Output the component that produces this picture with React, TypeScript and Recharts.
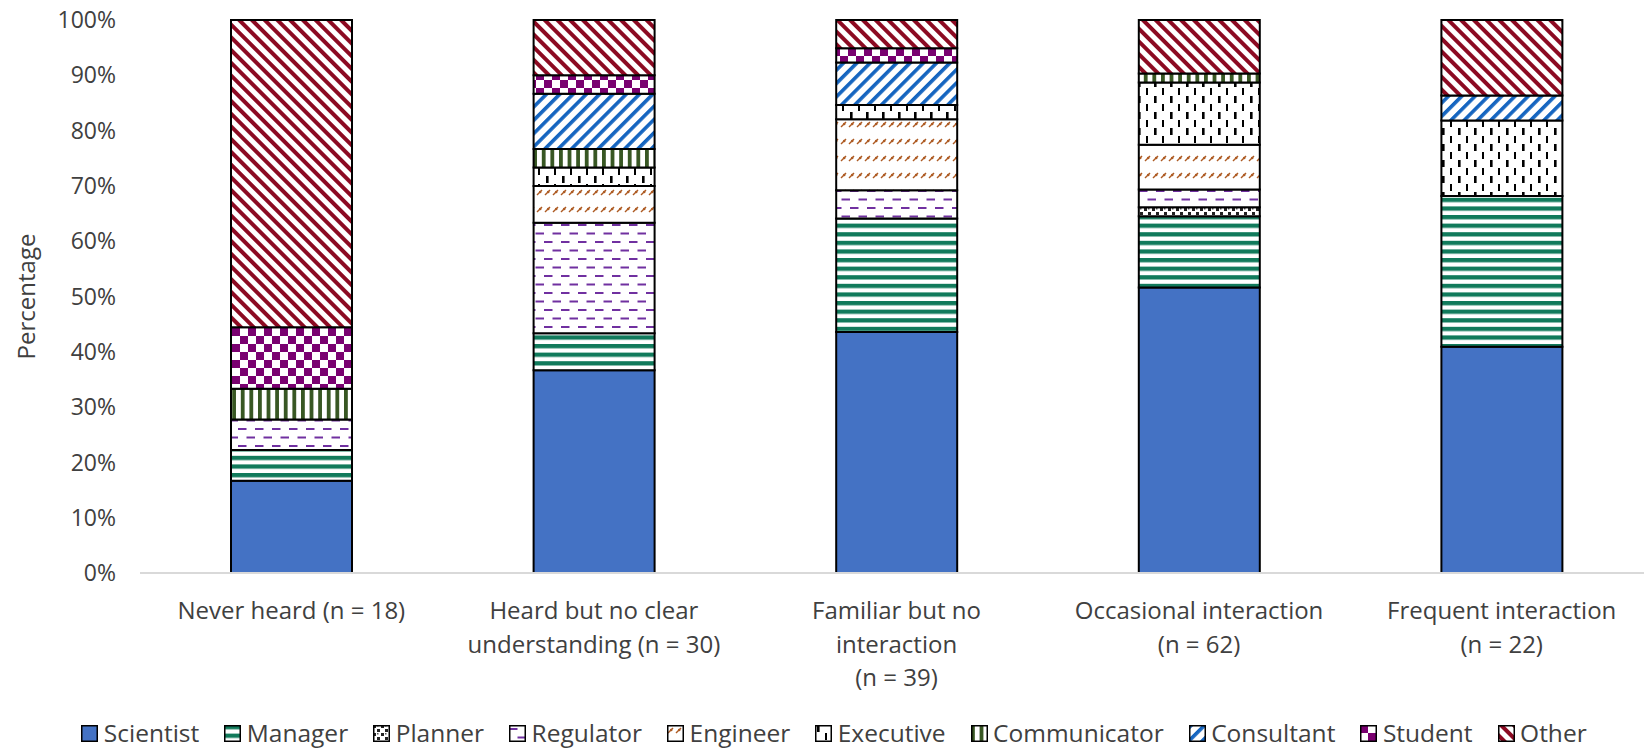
import React from "react";
import { BarChart, Bar, XAxis, YAxis } from "recharts";

const FONT = "'Open Sans', 'Noto Sans', sans-serif";
const TEXT = "#404040";

// category labels ("\n" marks where the original wraps)
const categories = [
  "Never heard (n = 18)",
  "Heard but no clear\nunderstanding (n = 30)",
  "Familiar but no\ninteraction\n(n = 39)",
  "Occasional interaction\n(n = 62)",
  "Frequent interaction\n(n = 22)",
];

// respondent counts per role, one entry per category
const scientist = [3, 11, 17, 32, 9];
const manager = [1, 2, 8, 8, 6];
const planner = [0, 0, 0, 1, 0];
const regulator = [1, 6, 2, 2, 0];
const engineer = [0, 2, 5, 5, 0];
const executive = [0, 1, 1, 7, 3];
const communicator = [1, 1, 0, 1, 0];
const consultant = [0, 3, 3, 0, 1];
const student = [2, 1, 1, 0, 0];
const other = [10, 3, 2, 6, 3];

const roles = [
  "Scientist",
  "Manager",
  "Planner",
  "Regulator",
  "Engineer",
  "Executive",
  "Communicator",
  "Consultant",
  "Student",
  "Other",
];
const roleCounts = [
  scientist,
  manager,
  planner,
  regulator,
  engineer,
  executive,
  communicator,
  consultant,
  student,
  other,
];

const yTicks = [0, 0.1, 0.2, 0.3, 0.4, 0.5, 0.6, 0.7, 0.8, 0.9, 1];

const fills: Record<string, string> = {
  Scientist: "#4472C4",
  Manager: "url(#p-manager)",
  Planner: "url(#p-planner)",
  Regulator: "url(#p-regulator)",
  Engineer: "url(#p-engineer)",
  Executive: "url(#p-executive)",
  Communicator: "url(#p-communicator)",
  Consultant: "url(#p-consultant)",
  Student: "url(#p-student)",
  Other: "url(#p-other)",
};

const data = categories.map((name, i) => {
  const row: any = { name };
  roles.forEach((r, k) => {
    row[r] = roleCounts[k][i];
  });
  return row;
});

const Patterns = () => (
  <defs>
    <pattern id="p-manager" patternUnits="userSpaceOnUse" width="10" height="8.6">
      <rect width="10" height="8.6" fill="#fff" />
      <rect y="0" width="10" height="4.3" fill="#117A5B" />
    </pattern>
    <pattern id="p-planner" patternUnits="userSpaceOnUse" width="8" height="8">
      <rect width="8" height="8" fill="#fff" />
      <rect x="0" y="0" width="3" height="3" fill="#222" />
      <rect x="4" y="4" width="3" height="3" fill="#222" />
      <rect x="4" y="0" width="1.5" height="1.5" fill="#555" />
    </pattern>
    <pattern id="p-regulator" patternUnits="userSpaceOnUse" width="17" height="17">
      <rect width="17" height="17" fill="#fff" />
      <rect x="0" y="3" width="8.5" height="2" fill="#7030A0" />
      <rect x="8.5" y="11.5" width="8.5" height="2" fill="#7030A0" />
    </pattern>
    <pattern id="p-engineer" patternUnits="userSpaceOnUse" width="8" height="17">
      <rect width="8" height="17" fill="#fff" />
      <path d="M1 8 L6 3" stroke="#AD5A22" strokeWidth="1.4" />
      <circle cx="4.2" cy="5" r="1.3" fill="#AD5A22" />
    </pattern>
    <pattern id="p-executive" patternUnits="userSpaceOnUse" width="16" height="16">
      <rect width="16" height="16" fill="#fff" />
      <rect x="2" y="0" width="2.6" height="7" fill="#000" />
      <rect x="10" y="8" width="2" height="7" fill="#000" />
    </pattern>
    <pattern id="p-communicator" patternUnits="userSpaceOnUse" width="8.6" height="10">
      <rect width="8.6" height="10" fill="#fff" />
      <rect x="0" width="3.8" height="10" fill="#385723" />
    </pattern>
    <pattern
      id="p-consultant"
      patternUnits="userSpaceOnUse"
      width="9.4"
      height="9.4"
      patternTransform="rotate(45)"
    >
      <rect width="9.4" height="9.4" fill="#fff" />
      <rect width="3.6" height="9.4" fill="#1565C0" />
    </pattern>
    <pattern id="p-student" patternUnits="userSpaceOnUse" width="16" height="16">
      <rect width="16" height="16" fill="#fff" />
      <rect x="0" y="0" width="8" height="8" fill="#7A0070" />
      <rect x="8" y="8" width="8" height="8" fill="#7A0070" />
    </pattern>
    <pattern
      id="p-other"
      patternUnits="userSpaceOnUse"
      width="9"
      height="9"
      patternTransform="rotate(-45)"
    >
      <rect width="9" height="9" fill="#fff" />
      <rect width="4" height="9" fill="#8C0A22" />
    </pattern>
  </defs>
);

const CategoryTick = ({ x, y, payload }: any) => {
  const lines = String(payload.value).split("\n");
  return (
    <text x={x} y={y} textAnchor="middle" fill={TEXT} fontSize={24} fontFamily={FONT}>
      {lines.map((l, i) => (
        <tspan key={i} x={x} dy={i === 0 ? 38 : 33.5}>
          {l}
        </tspan>
      ))}
    </text>
  );
};

const YTitle = ({ viewBox }: any) => {
  const cy = viewBox.y + viewBox.height / 2;
  return (
    <text
      x={25}
      y={cy}
      transform={`rotate(-90 25 ${cy})`}
      textAnchor="middle"
      dominantBaseline="central"
      fill={TEXT}
      fontSize={24}
      fontFamily={FONT}
    >
      Percentage
    </text>
  );
};

const LegendRow = () => (
  <div
    style={{
      position: "absolute",
      left: 12,
      top: 719,
      width: 1644,
      display: "flex",
      justifyContent: "center",
      gap: 25,
      fontSize: 24.5,
      lineHeight: "28px",
      color: TEXT,
      fontFamily: FONT,
    }}
  >
    {roles.map((r) => (
      <div key={r} style={{ display: "flex", alignItems: "center", gap: 5.5 }}>
        <svg width={17} height={17}>
          <rect x={0.75} y={0.75} width={15.5} height={15.5} fill={fills[r]} stroke="#000" strokeWidth={1.5} />
        </svg>
        <span>{r}</span>
      </div>
    ))}
  </div>
);

export default function App() {
  return (
    <div
      style={{
        position: "fixed",
        left: 0,
        top: 0,
        width: 1644,
        height: 752,
        overflow: "hidden",
        background: "#fff",
        fontFamily: FONT,
      }}
    >
      <BarChart
        width={1653}
        height={752}
        data={data}
        stackOffset="expand"
        barSize={121}
        margin={{ top: 20, right: 0, bottom: 0, left: 0 }}
      >
        <Patterns />
        <XAxis
          dataKey="name"
          interval={0}
          height={179}
          tickLine={false}
          axisLine={{ stroke: "#D9D9D9", strokeWidth: 2 }}
          tick={<CategoryTick />}
        />
        <YAxis
          type="number"
          domain={[0, 1]}
          ticks={yTicks}
          width={140}
          axisLine={false}
          tickLine={false}
          tickMargin={18}
          tickFormatter={(v: number) => `${Math.round(v * 100)}%`}
          tick={{ fill: TEXT, fontSize: 23, fontFamily: FONT }}
          label={<YTitle />}
        />
        {roles.map((r) => (
          <Bar
            key={r}
            dataKey={r}
            stackId="a"
            fill={fills[r]}
            stroke="#000"
            strokeWidth={2}
            isAnimationActive={false}
          />
        ))}
      </BarChart>
      <LegendRow />
    </div>
  );
}
